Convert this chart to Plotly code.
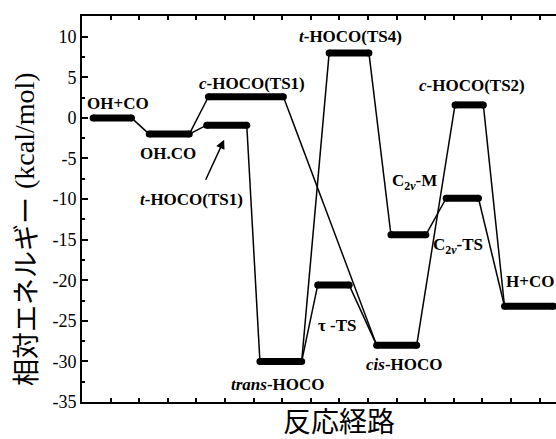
import plotly.graph_objects as go

# ---- data ----
level_names = ["OH+CO", "OH.CO", "c-HOCO(TS1)", "t-HOCO(TS1)", "trans-HOCO",
               "t-HOCO(TS4)", "τ-TS", "cis-HOCO", "C2v-M", "C2v-TS",
               "c-HOCO(TS2)", "H+CO"]
energies = [0.0, -2.0, 2.6, -0.9, -30.0, 8.0, -20.6, -28.0, -14.4, -9.9, 1.6, -23.2]

# reaction-coordinate slots of each level (start, end)
x_start = [0.39, 2.35, 4.42, 4.36, 6.22, 8.64, 8.24, 10.30, 10.80, 12.73, 13.04, 14.77]
x_end   = [1.73, 3.75, 7.04, 5.76, 7.68, 10.03, 9.34, 11.70, 12.02, 13.86, 14.03, 16.48]

# pathways: (from level, to level)
connections = [(0, 1), (1, 2), (1, 3), (3, 4), (2, 7), (4, 5), (4, 6), (6, 7),
               (5, 8), (7, 10), (8, 9), (10, 11), (9, 11)]

# label texts and anchor positions
label_texts = ["OH+CO", "OH.CO", "<i>c</i>-HOCO(TS1)", "<i>t</i>-HOCO(TS1)",
               "<i>trans</i>-HOCO", "<i>t</i>-HOCO(TS4)", "τ -TS", "<i>cis</i>-HOCO",
               "C<sub>2<i>v</i></sub>-M", "C<sub>2<i>v</i></sub>-TS",
               "<i>c</i>-HOCO(TS2)", "H+CO"]
label_x = [1.26, 3.0, 5.94, 3.84, 6.85, 9.37, 8.92, 11.29, 11.63, 13.15, 13.65, 15.66]
label_y = [1.8, -4.4, 4.2, -10.1, -32.9, 10.0, -25.6, -30.4, -7.9, -15.8, 3.94, -20.2]

y_tickvals = [-35, -30, -25, -20, -15, -10, -5, 0, 5, 10]
y_ticktext = ["-35", "-30", "-25", "-20", "-15", "-10", "-5", "0", "5", "10"]

x_range = [0, 16.57]
y_range = [-35, 12.55]

# ---- build traces ----
lx, ly = [], []
for xs, xe, e in zip(x_start, x_end, energies):
    lx += [xs, xe, None]
    ly += [e, e, None]

cx, cy = [], []
for a, b in connections:
    cx += [x_end[a], x_start[b], None]
    cy += [energies[a], energies[b], None]

fig = go.Figure()
fig.add_trace(go.Scatter(x=cx, y=cy, mode="lines",
                         line=dict(color="black", width=1.5),
                         hoverinfo="skip", showlegend=False))
fig.add_trace(go.Scatter(x=lx, y=ly, mode="lines+markers",
                         line=dict(color="black", width=7),
                         marker=dict(color="black", size=7),
                         hoverinfo="skip", showlegend=False))

serif = "Liberation Serif"
for t, x, y in zip(label_texts, label_x, label_y):
    fig.add_annotation(x=x, y=y, xref="x", yref="y", text="<b>" + t + "</b>",
                       xanchor="center", yanchor="middle",
                       showarrow=False, font=dict(family=serif, size=17, color="black"))

# arrow pointing to t-HOCO(TS1)
fig.add_annotation(x=4.97, y=-2.7, ax=4.3, ay=-7.8, xref="x", yref="y",
                   axref="x", ayref="y", text="", showarrow=True,
                   arrowhead=2, arrowsize=1.2, arrowwidth=1.5, arrowcolor="black")

# axis titles (placed in pixels converted to paper coords)
W, H, L, T, B = 556, 439, 82, 16, 37
pw, ph = W - L, H - T - B
def px(xp):
    return (xp - L) / pw
def py(yp):
    return (H - B - yp) / ph

fig.add_annotation(x=px(24), y=py(292), xref="paper", yref="paper",
                   xanchor="center", yanchor="middle",
                   text="相対エネルギー", textangle=-90, showarrow=False,
                   font=dict(family="Noto Sans CJK JP", size=27, color="black"))
fig.add_annotation(x=px(24), y=py(131), xref="paper", yref="paper",
                   xanchor="center", yanchor="middle",
                   text="(kcal/mol)", textangle=-90, showarrow=False,
                   font=dict(family=serif, size=28, color="black"))
fig.add_annotation(x=px(339), y=py(420), xref="paper", yref="paper",
                   xanchor="center", yanchor="middle",
                   text="反応経路", showarrow=False,
                   font=dict(family="Noto Sans CJK JP", size=28, color="black"))

fig.update_layout(
    width=W, height=H,
    margin=dict(l=L, r=0, t=T, b=B),
    paper_bgcolor="white", plot_bgcolor="white",
    xaxis=dict(range=x_range, showline=True, linewidth=2, linecolor="black",
               mirror="ticks", ticks="inside", ticklen=4, tickwidth=1.5,
               tickcolor="black", tick0=0, dtick=1, showticklabels=False,
               showgrid=False, zeroline=False),
    yaxis=dict(range=y_range, showline=True, linewidth=2, linecolor="black",
               ticks="inside", ticklen=6, tickwidth=2, tickcolor="black",
               tickvals=y_tickvals, ticktext=y_ticktext,
               minor=dict(ticks="inside", ticklen=3, tickwidth=1.5, tickcolor="black", dtick=2.5, tick0=0),
               tickfont=dict(family=serif, size=18, color="black"),
               showgrid=False, zeroline=False),
)

fig.write_html("out.html", config={"displayModeBar": False},
               post_script="document.body.style.margin='0';document.body.style.overflow='hidden';")
